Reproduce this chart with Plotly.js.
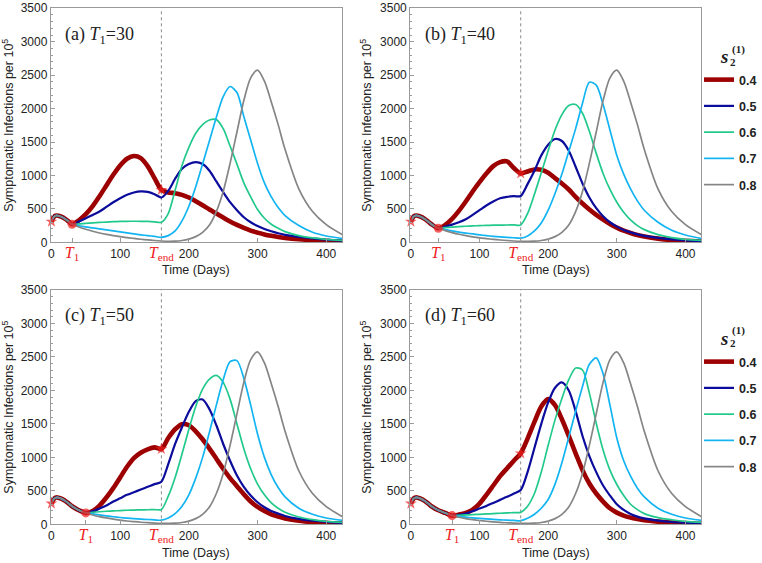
<!DOCTYPE html>
<html><head><meta charset="utf-8">
<script src="https://cdn.plot.ly/plotly-3.0.1.min.js"></script>
<style>html,body{margin:0;padding:0;background:#fff}#chart{width:762px;height:563px}</style>
</head><body><div id="chart"></div>
<script>
// ---------------- DATA ----------------
const seriesNames = ['0.4', '0.5', '0.6', '0.7', '0.8'];
const T1 = [30, 40, 50, 60];
const Tend = 160;
const panelTags = ['(a)', '(b)', '(c)', '(d)'];

// shared early part (before the first switch)
const earlyDays = [0, 2, 4, 6, 8, 10, 15, 20, 25, 30, 40, 50, 60];
const earlyVals = [310, 355, 385, 398, 402, 398, 380, 350, 312, 270, 210, 170, 130];

const daysA = [30, 40, 50, 60, 70, 80, 90, 100, 110, 120, 130, 140, 150, 160, 170, 180, 190, 200, 210, 220, 230, 240, 250, 260, 270, 280, 290, 300, 310, 320, 330, 340, 360, 380, 400, 425];
const daysB = [40, 50, 60, 70, 80, 90, 100, 110, 120, 130, 140, 150, 160, 170, 180, 190, 200, 210, 220, 230, 240, 250, 260, 270, 280, 290, 300, 310, 320, 330, 340, 360, 380, 400, 425];
const daysC = [50, 60, 70, 80, 90, 100, 110, 120, 130, 140, 150, 160, 170, 180, 190, 200, 210, 220, 230, 240, 250, 260, 270, 280, 290, 300, 310, 320, 330, 340, 360, 380, 400, 425];
const daysD = [60, 70, 80, 90, 100, 110, 120, 130, 140, 150, 160, 170, 180, 190, 200, 210, 220, 230, 240, 250, 260, 270, 280, 290, 300, 310, 320, 330, 340, 360, 380, 400, 425];

// s2 = 0.8 after T_end (days 170 ... 425), nearly identical in all panels
const grayLate = [15, 17, 27, 48, 85, 150, 260, 460, 760, 1180, 1650, 2120, 2460, 2575, 2410, 2100, 1760, 1390, 800, 460, 265, 105];

// (a) T1 = 30
const a04 = [270, 330, 420, 540, 690, 850, 1010, 1150, 1250, 1290, 1260, 1140, 960, 785, 745, 735, 710, 670, 615, 555, 490, 430, 370, 310, 260, 215, 175, 145, 118, 97, 80, 66, 45, 30, 20, 12];
const a05 = [270, 310, 360, 410, 460, 530, 600, 660, 710, 745, 762, 755, 720, 670, 770, 950, 1100, 1170, 1198, 1170, 1070, 910, 750, 600, 480, 375, 300, 245, 200, 165, 135, 112, 80, 58, 40, 25];
const a06 = [270, 275, 283, 290, 297, 303, 308, 312, 314, 315, 314, 312, 307, 300, 430, 780, 1150, 1420, 1630, 1760, 1830, 1835, 1700, 1440, 1170, 890, 680, 490, 360, 270, 210, 160, 100, 65, 45, 28];
const a07 = [270, 250, 230, 215, 200, 185, 170, 155, 140, 125, 112, 100, 88, 75, 100, 170, 320, 540, 830, 1170, 1520, 1870, 2180, 2330, 2240, 1880, 1530, 1180, 890, 680, 520, 400, 250, 150, 95, 55];
const a08Mid = [270, 230, 195, 165, 140, 118, 100, 85, 70, 58, 46, 36, 27, 20];

// (b) T1 = 40
const b04 = [210, 260, 350, 470, 610, 760, 900, 1030, 1140, 1200, 1210, 1110, 1030, 1060, 1090, 1085, 1040, 960, 880, 790, 680, 580, 490, 410, 340, 275, 220, 175, 140, 110, 88, 55, 35, 22, 12];
const b05 = [210, 235, 265, 300, 345, 410, 480, 550, 610, 658, 680, 690, 693, 870, 1070, 1300, 1460, 1545, 1515, 1370, 1130, 880, 670, 510, 390, 300, 235, 185, 148, 118, 96, 65, 44, 30, 18];
const b06 = [210, 220, 228, 235, 240, 245, 250, 253, 256, 258, 259, 260, 260, 430, 720, 1040, 1370, 1680, 1910, 2045, 2060, 1930, 1660, 1330, 1030, 790, 600, 450, 335, 250, 190, 115, 70, 45, 30];
const b07 = [210, 190, 170, 153, 138, 125, 112, 100, 90, 82, 75, 68, 62, 95, 170, 290, 480, 730, 1020, 1360, 1700, 2080, 2395, 2350, 2060, 1680, 1300, 1020, 800, 620, 480, 300, 180, 110, 55];
const b08Mid = [210, 175, 145, 120, 100, 82, 67, 55, 44, 35, 27, 20, 15];

// (c) T1 = 50
const c04 = [170, 200, 280, 400, 540, 700, 860, 990, 1070, 1120, 1150, 1125, 1290, 1420, 1495, 1480, 1390, 1270, 1130, 980, 830, 690, 570, 450, 340, 260, 200, 150, 115, 88, 52, 32, 20, 10];
const c05 = [170, 195, 235, 280, 340, 390, 440, 480, 520, 560, 600, 637, 900, 1200, 1450, 1680, 1840, 1865, 1720, 1480, 1200, 950, 730, 560, 430, 330, 255, 200, 160, 125, 82, 55, 37, 22];
const c06 = [170, 180, 188, 195, 200, 205, 210, 213, 216, 218, 220, 222, 420, 700, 1050, 1420, 1760, 2020, 2170, 2225, 2120, 1870, 1500, 1130, 830, 600, 440, 320, 240, 180, 110, 70, 45, 30];
const c07 = [170, 155, 140, 125, 113, 102, 93, 85, 78, 72, 66, 62, 95, 160, 270, 440, 690, 1000, 1380, 1780, 2160, 2430, 2445, 2180, 1780, 1350, 1000, 740, 550, 410, 240, 150, 95, 58];
const c08Mid = [170, 140, 115, 95, 78, 63, 50, 40, 31, 24, 18, 14];

// (d) T1 = 60
const d04 = [130, 145, 170, 220, 310, 440, 580, 720, 835, 950, 1060, 1280, 1530, 1760, 1870, 1780, 1570, 1320, 1060, 810, 610, 460, 340, 240, 175, 130, 100, 78, 60, 40, 25, 15, 8];
const d05 = [130, 140, 160, 195, 235, 275, 320, 365, 410, 460, 512, 780, 1140, 1500, 1820, 2040, 2120, 2000, 1690, 1320, 1020, 780, 580, 430, 300, 215, 155, 115, 88, 55, 35, 24, 14];
const d06 = [130, 135, 140, 145, 150, 155, 160, 165, 170, 175, 179, 270, 460, 780, 1180, 1560, 1880, 2160, 2335, 2305, 1960, 1510, 1110, 810, 595, 430, 300, 220, 160, 100, 68, 45, 30];
const d07 = [130, 118, 107, 97, 88, 80, 73, 67, 62, 58, 54, 90, 150, 240, 370, 600, 920, 1300, 1690, 2060, 2390, 2485, 2250, 1780, 1290, 950, 720, 540, 410, 240, 150, 95, 58];
const d08Mid = [130, 105, 85, 70, 57, 46, 37, 29, 23, 18, 14];

// ---------------- STYLE ----------------
const lineColors = ['#9c0000', '#0c0c9c', '#22c98c', '#12b4f2', '#858585'];
const lineWidths = [4.6, 2.2, 1.7, 1.7, 1.7];
const axisGray = '#9a9a9a';
const textColor = '#222222';
const sans = 'Liberation Sans, Arial, sans-serif';
const serif = 'Liberation Serif, Times New Roman, serif';
const markRed = '#ee1c1c';

const panels = [
  {days: daysA, vals: [a04, a05, a06, a07, a08Mid.concat(grayLate)], xa: 'x',  ya: 'y',  leg: null},
  {days: daysB, vals: [b04, b05, b06, b07, b08Mid.concat(grayLate)], xa: 'x2', ya: 'y2', leg: 'legend'},
  {days: daysC, vals: [c04, c05, c06, c07, c08Mid.concat(grayLate)], xa: 'x3', ya: 'y3', leg: null},
  {days: daysD, vals: [d04, d05, d06, d07, d08Mid.concat(grayLate)], xa: 'x4', ya: 'y4', leg: 'legend2'}
];
const xDom = [[0.0667, 0.4495], [0.5390, 0.9215], [0.0667, 0.4495], [0.5390, 0.9215]];
const yDom = [[0.5696, 0.9853], [0.5696, 0.9853], [0.0687, 0.4849], [0.0687, 0.4849]];
const xTitleY = [270, 270, 553, 553]; // pixel centre of "Time (Days)"

const traces = [];
panels.forEach((p, k) => {
  const t1 = T1[k];
  const preX = [], preY = [];
  earlyDays.forEach((d, i) => { if (d < t1) { preX.push(d); preY.push(earlyVals[i]); } });
  p.vals.forEach((v, i) => {
    traces.push({
      type: 'scatter', mode: 'lines',
      x: preX.concat(p.days), y: preY.concat(v),
      xaxis: p.xa, yaxis: p.ya, name: seriesNames[i],
      line: {color: lineColors[i], width: lineWidths[i], shape: 'spline', smoothing: 0.8},
      showlegend: !!p.leg, legend: p.leg || 'legend', legendgroup: 'g' + k + '_' + i,
      hoverinfo: 'skip'
    });
  });
  const red = p.vals[0];
  traces.push({
    type: 'scatter', mode: 'markers', cliponaxis: false,
    x: [0, t1, Tend], y: [earlyVals[0], red[0], red[p.days.indexOf(Tend)]],
    xaxis: p.xa, yaxis: p.ya, showlegend: false, hoverinfo: 'skip',
    marker: {symbol: ['star', 'circle', 'star'], size: [9, 9, 9], color: markRed, line: {width: 0}}
  });
});

const redSpan = 'color:' + markRed + ';font-family:Liberation Serif;font-size:16px';
const layout = {
  width: 762, height: 563,
  margin: {l: 0, r: 0, t: 0, b: 0},
  paper_bgcolor: '#ffffff', plot_bgcolor: '#ffffff',
  showlegend: true,
  shapes: [], annotations: []
};

panels.forEach((p, k) => {
  const sfx = k === 0 ? '' : String(k + 1);
  const t1 = T1[k];
  const tv = [0, t1, 100, Tend, 200, 300, 400];
  const tt = ['0', '<span style="' + redSpan + '"><i>T</i><sub>1</sub></span>', '100',
              '<span style="' + redSpan + '"><i>T</i><sub>end</sub></span>', '200', '300', '400'];
  layout['xaxis' + sfx] = {
    domain: xDom[k], anchor: 'y' + sfx, range: [-1, 423],
    tickmode: 'array', tickvals: tv, ticktext: tt,
    ticks: 'inside', ticklen: 4, tickcolor: axisGray,
    showline: true, linecolor: axisGray, linewidth: 1, mirror: true,
    showgrid: false, zeroline: false,
    tickfont: {family: sans, size: 12, color: textColor}
  };
  layout['yaxis' + sfx] = {
    domain: yDom[k], anchor: 'x' + sfx, range: [0, 3500],
    tickmode: 'linear', tick0: 0, dtick: 500,
    ticks: 'inside', ticklen: 4, tickcolor: axisGray,
    minor: {ticks: 'inside', ticklen: 2, dtick: 100, tickcolor: axisGray},
    showline: true, linecolor: axisGray, linewidth: 1, mirror: true,
    showgrid: false, zeroline: false,
    tickfont: {family: sans, size: 12, color: textColor},
    title: {text: 'Symptomatic Infections per 10<sup>5</sup>', font: {family: sans, size: 12.5, color: textColor}, standoff: 5}
  };
  layout.shapes.push({
    type: 'line', xref: 'x' + sfx, yref: 'y' + sfx, x0: Tend, x1: Tend, y0: 0, y1: 3500,
    line: {color: '#8a8a8a', width: 1, dash: 'dot'}, layer: 'below'
  });
  layout.annotations.push({
    xref: 'x' + sfx + ' domain', yref: 'y' + sfx + ' domain', x: 0.043, y: 0.885,
    xanchor: 'left', yanchor: 'middle', showarrow: false,
    text: panelTags[k] + ' <i>T</i><sub>1</sub>=' + t1,
    font: {family: serif, size: 18, color: textColor}
  });
  layout.annotations.push({
    xref: 'x' + sfx + ' domain', yref: 'paper', x: 0.5, y: (563 - xTitleY[k]) / 563,
    xanchor: 'center', yanchor: 'middle', showarrow: false,
    text: 'Time (Days)', font: {family: sans, size: 12.5, color: textColor}
  });
});

const legendCommon = {
  xanchor: 'left', yanchor: 'top', bgcolor: 'rgba(0,0,0,0)', borderwidth: 0,
  font: {family: sans, size: 12.5, color: textColor, weight: 'bold'},
  itemwidth: 30, tracegroupgap: 7, traceorder: 'grouped'
};
layout.legend = Object.assign({x: 700 / 762, y: (563 - 65) / 563}, legendCommon);
layout.legend2 = Object.assign({x: 700 / 762, y: (563 - 347) / 563}, legendCommon);

// legend titles  s_2^(1)
[57, 338].forEach(yc => {
  layout.annotations.push({xref: 'paper', yref: 'paper', x: 725 / 762, y: (563 - yc) / 563,
    xanchor: 'center', yanchor: 'middle', showarrow: false, text: '<b><i>s</i></b>',
    font: {family: serif, size: 19, color: textColor}});
  layout.annotations.push({xref: 'paper', yref: 'paper', x: 739 / 762, y: (563 - yc + 8) / 563,
    xanchor: 'center', yanchor: 'middle', showarrow: false, text: '<b>(1)</b>',
    font: {family: serif, size: 11, color: textColor}});
  layout.annotations.push({xref: 'paper', yref: 'paper', x: 734 / 762, y: (563 - yc - 5) / 563,
    xanchor: 'center', yanchor: 'middle', showarrow: false, text: '<b>2</b>',
    font: {family: serif, size: 11, color: textColor}});
});

Plotly.newPlot('chart', traces, layout, {displayModeBar: false, staticPlot: true});
</script></body></html>
